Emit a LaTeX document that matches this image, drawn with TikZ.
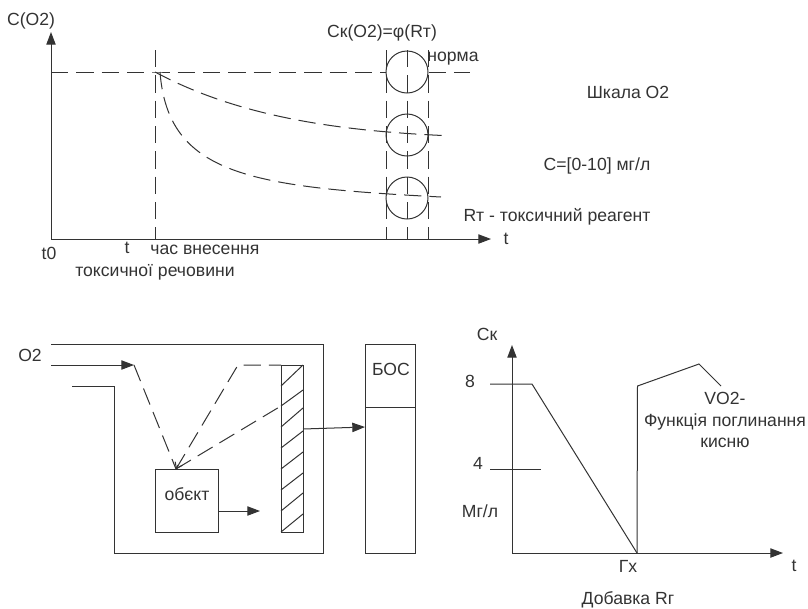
\documentclass[tikz,border=0pt]{standalone}
\usepackage{fontspec}
\setmainfont{Liberation Sans}
\usetikzlibrary{arrows.meta}

\begin{document}
\begin{tikzpicture}[x=0.75pt, y=-0.75pt, >={Triangle[length=9.5pt,width=7pt]},
    line width=0.75pt, color=black!80,
    lbl/.style={inner sep=0pt, font=\fontsize{13.2}{15}\selectfont},
    dashline/.style={dash pattern=on 13pt off 6pt},
    ring/.style={draw, circle, minimum size=31.5pt, inner sep=0pt},
    box/.style={draw, rectangle, inner sep=0pt}]

    \useasboundingbox (0, 0) rectangle (808, 608);

    % upper chart
    \coordinate (origin) at (51, 239);
    \coordinate (ytop) at (51, 32);
    \coordinate (xend) at (491, 239);
    \coordinate (start) at (155, 72);
    \draw [->] (origin) -- (ytop);
    \draw [->] (origin) -- (xend);
    \node [ring] (ringA) at (407, 72) {};
    \node [ring] (ringB) at (407, 135) {};
    \node [ring] (ringC) at (407, 198) {};
    \draw [dashline] (51, 72) -- (start) -- (ringA.west);
    \draw [dashline] (ringA.east) -- (470, 72);
    \draw [dashline] (155, 50) -- (155, 239);
    \draw [dashline] (386, 50) -- (386, 239);
    \draw [dashline] (407, 50) -- (407, 239);
    \draw [dashline] (428, 50) -- (428, 239);
    \draw [dashline] (start) .. controls (230, 112) and (320, 130) .. (443, 135.5);
    \draw [dashline] (160, 72) .. controls (168, 175) and (250, 187) .. (441, 197);

    \node [lbl] (cotwo) at (31, 21) {C(O2)};
    \node [lbl] (func) at (382, 33) {Cк(O2)=φ(Rт)};
    \node [lbl] (norma) at (453, 59) {норма};
    \node [lbl] (scale) at (628, 92) {Шкала O2};
    \node [lbl] (range) at (597, 166) {C=[0-10] мг/л};
    \node [lbl] (reagent) at (557, 217) {Rт - токсичний реагент};
    \node [lbl] (tright) at (506, 239) {t};
    \node [lbl] (tzero) at (49, 253) {t0};
    \node [lbl] (tmark) at (127, 248) {t};
    \node [lbl] (timeA) at (205, 250) {час внесення};
    \node [lbl] (timeB) at (155, 272) {токсичної речовини};

    % vessel
    \draw (51, 344) -- (323, 344) -- (323, 553) -- (114, 553) -- (114, 386) -- (72, 386);
    \coordinate (inlet) at (51, 365);
    \coordinate (turn) at (134, 365);
    \coordinate (bounce) at (238, 365);
    \coordinate (hit) at (281, 406);
    \coordinate (free) at (260, 511);
    \node [box, minimum width=47.25pt, minimum height=47.25pt] (obj) at (186.5, 500.5) {};
    \node [box, minimum width=16.5pt, minimum height=125.25pt] (screen) at (292, 448.5) {};
    \node [box, minimum width=37.5pt, minimum height=156.75pt] (bos) at (390, 448.5) {};
    \coordinate (tip) at (176, 469);

    \foreach \ya/\yb in {532/514, 511/493, 490/473, 469/452, 448/431, 427/408, 406/390, 386/365}
        \draw (281, \ya) -- (303, \yb);
    \draw (365, 407) -- (415, 407);
    \draw [->] (inlet) -- (turn);
    \draw [dashline] (turn) -- (tip);
    \draw [dashline] (tip) -- (bounce) -- (281, 365);
    \draw [dashline] (tip) -- (hit);
    \draw [-{Straight Barb[length=4pt,width=6pt]}] (178, 465) -- (tip);
    \draw [->] (obj.east |- free) -- (free);
    \draw [->] (303, 429) -- (365, 427);

    \node [lbl] (otwo) at (30, 355) {O2};
    \node [lbl] (objtext) at (187, 494) {обєкт};
    \node [lbl] (bostext) at (391, 369) {БОС};

    % lower chart
    \coordinate (zero) at (512, 553);
    \coordinate (ctop) at (512, 345);
    \coordinate (tend) at (783, 553);
    \coordinate (dose) at (637, 553);
    \draw [->] (zero) -- (ctop);
    \draw [->] (zero) -- (tend);
    \draw (490, 384) -- (532, 384) -- (dose);
    \draw (490, 469) -- (541, 469);
    \draw (dose) -- (637.5, 386) -- (699, 364) -- (721, 386);

    \node [lbl] (ck) at (487, 334) {Cк};
    \node [lbl] (eight) at (470, 381) {8};
    \node [lbl] (four) at (478, 463) {4};
    \node [lbl] (unit) at (480, 511) {Мг/л};
    \node [lbl] (gx) at (628, 566) {Гх};
    \node [lbl] (tlow) at (794, 566) {t};
    \node [lbl] (added) at (628, 600) {Добавка Rг};
    \node [lbl] (vtwo) at (725, 398) {VO2-};
    \node [lbl] (absA) at (725, 422) {Функція поглинання};
    \node [lbl] (absB) at (725, 443) {кисню};
\end{tikzpicture}
\end{document}
